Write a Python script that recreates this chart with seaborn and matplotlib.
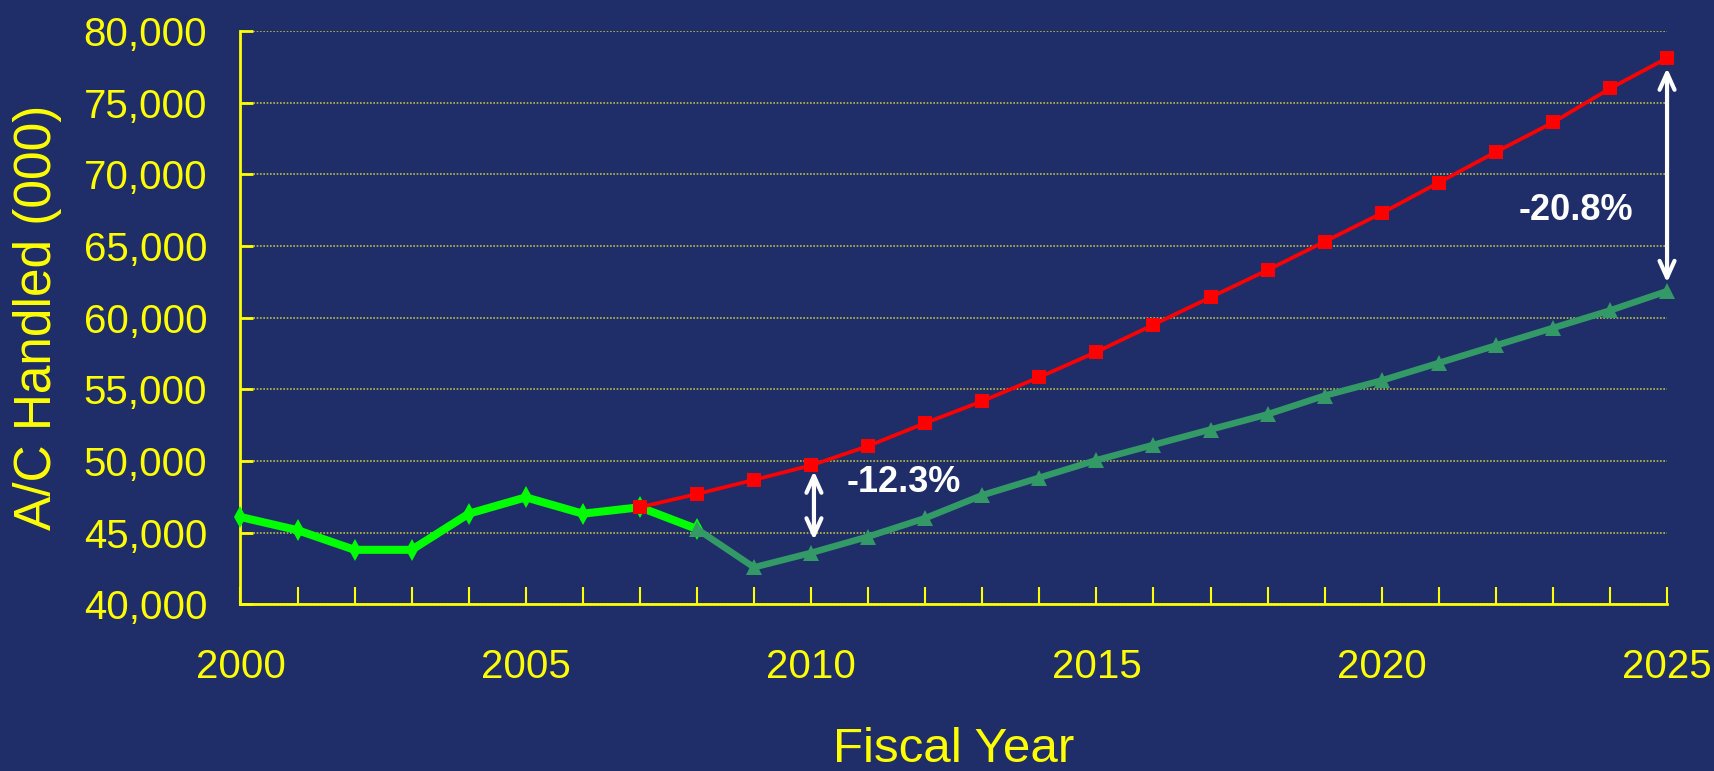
import matplotlib
matplotlib.use("Agg")
import matplotlib.pyplot as plt
import seaborn as sns
import pandas as pd

# Historical traffic (bright green)
hist_years = [2000, 2001, 2002, 2003, 2004, 2005, 2006, 2007, 2008]
hist_values = [46100, 45180, 43810, 43810, 46330, 47470, 46330, 46780, 45260]

# Pre-downturn forecast (red)
old_years = list(range(2007, 2026))
old_values = [46780, 47700, 48690, 49700, 51050, 52650, 54180, 55850, 57610, 59510,
              61420, 63320, 65300, 67290, 69420, 71550, 73610, 75980, 78100]

# Current forecast (dark green)
new_years = list(range(2008, 2026))
new_values = [45260, 42590, 43600, 44730, 46020, 47620, 48840, 50060, 51130, 52200,
              53260, 54560, 55620, 56840, 58060, 59280, 60500, 61850]

y_ticks = [40000, 45000, 50000, 55000, 60000, 65000, 70000, 75000, 80000]
x_label_years = [2000, 2005, 2010, 2015, 2020, 2025]

gap_labels = ["-12.3%", "-20.8%"]

bg = "#1f2e68"
yellow = "#ffff00"

sns.set_theme(style="white")
plt.rcParams["font.family"] = ["Liberation Sans", "DejaVu Sans"]

fig = plt.figure(figsize=(17.14, 7.71), dpi=100, facecolor=bg)
ax = fig.add_axes([0.1403, 0.216, 0.8323, 0.744])
ax.set_facecolor(bg)

df_hist = pd.DataFrame({"year": hist_years, "value": hist_values})
df_old = pd.DataFrame({"year": old_years, "value": old_values})
df_new = pd.DataFrame({"year": new_years, "value": new_values})

sns.lineplot(data=df_hist, x="year", y="value", ax=ax, color="#00ff00", linewidth=5.8,
             marker="d", markersize=11, markeredgewidth=0, clip_on=False, zorder=3)
sns.lineplot(data=df_old, x="year", y="value", ax=ax, color="#ff0000", linewidth=2.7,
             marker="s", markersize=9.5, markeredgewidth=0, clip_on=False, zorder=5)
sns.lineplot(data=df_new, x="year", y="value", ax=ax, color="#339966", linewidth=4.7,
             marker="^", markersize=12, markeredgewidth=0, clip_on=False, zorder=4)

ax.set_xlim(2000, 2025)
ax.set_ylim(40000, 80000)

ax.set_yticks(y_ticks)
ax.set_yticklabels([f"{v:,}" for v in y_ticks])
ax.set_xticks(range(2000, 2026))
ax.set_xticklabels([str(y) if y in x_label_years else "" for y in range(2000, 2026)])

ax.tick_params(axis="y", direction="in", length=9, width=2, color=yellow,
               labelcolor=yellow, labelsize=29, pad=24, left=True)
ax.tick_params(axis="x", direction="in", length=12, width=1.5, color=yellow,
               labelcolor=yellow, labelsize=29, pad=31, bottom=True)

ax.grid(axis="y", color="#d6d640", linestyle=(0, (1, 1)), linewidth=1.2, alpha=0.85)
ax.grid(axis="x", visible=False)
ax.set_axisbelow(True)

for side in ["top", "right"]:
    ax.spines[side].set_visible(False)
for side in ["left", "bottom"]:
    ax.spines[side].set_color(yellow)
    ax.spines[side].set_linewidth(2)

ax.set_ylabel("A/C Handled (000)", fontsize=37, color=yellow, va="center")
ax.yaxis.set_label_coords(-0.1425, 0.5)
ax.set_xlabel("Fiscal Year", fontsize=35.5, color=yellow, va="center")
ax.xaxis.set_label_coords(0.5, -0.2535)

# Gap arrows and percentages
arrow_style = dict(arrowstyle="<->,head_length=1.0,head_width=0.45", color="white", lw=3)
ax.annotate("", xy=(2010.05, 49500), xytext=(2010.05, 44300), arrowprops=arrow_style, zorder=6)
ax.annotate("", xy=(2025, 77600), xytext=(2025, 62250), arrowprops=arrow_style,
            annotation_clip=False, zorder=6)
ax.text(2010.63, 48470, gap_labels[0], color="white", fontsize=26, fontweight="bold",
        ha="left", va="center")
ax.text(2023.4, 67490, gap_labels[1], color="white", fontsize=26, fontweight="bold",
        ha="center", va="center")

fig.savefig("out.png", dpi=100, facecolor=bg)
